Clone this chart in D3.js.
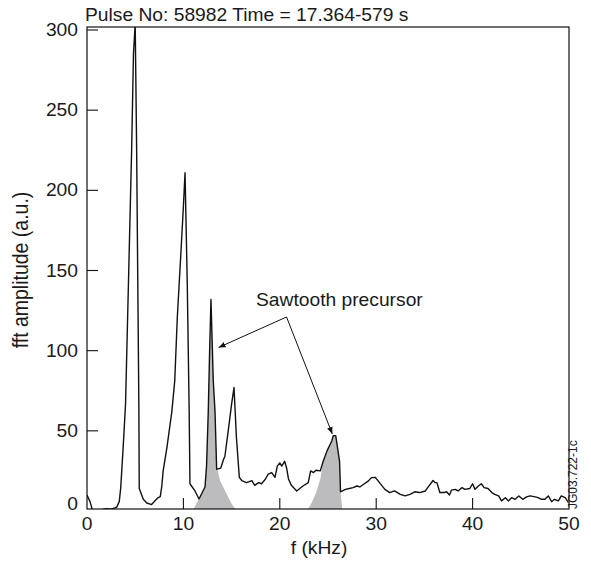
<!DOCTYPE html>
<html>
<head>
<meta charset="utf-8">
<script src="https://cdn.jsdelivr.net/npm/d3@7"></script>
<style>
  body { margin: 0; background: #fff; }
  text { font-family: "Liberation Sans", Arial, sans-serif; fill: #1a1a1a; }
</style>
</head>
<body>
<div id="chart"></div>
<script>
// spectrum (kHz, a.u.)
var freqKHz = [0,0.3,0.55,1.0,1.5,2.0,2.5,2.9,3.1,3.35,3.5,3.77,4.0,4.63,4.82,5.0,5.15,5.38,5.42,5.84,
  6.2,6.7,7.3,7.6,7.75,7.9,8.3,8.8,9.1,9.37,9.75,10.0,10.17,10.4,10.6,10.68,11.2,11.62,12.24,12.4,
  12.58,12.72,12.86,13.1,13.28,13.45,13.87,14.15,14.3,14.65,15.0,15.25,15.5,15.8,16.05,16.55,17.1,17.4,17.8,18.1,
  18.5,18.8,19.16,19.5,19.74,20.0,20.2,20.5,20.7,20.9,21.2,21.75,22.4,22.95,23.2,23.5,23.75,24.2,24.5,24.9,
  25.4,25.55,25.8,26.2,26.3,26.8,27.2,27.6,28.0,28.3,28.7,29.2,29.5,29.9,30.2,30.9,31.4,31.9,32.5,33.0,
  33.5,34.0,34.5,35.1,35.4,35.9,36.1,36.3,36.6,37.0,37.3,37.6,37.8,38.2,38.5,38.9,39.2,39.7,40.0,40.25,
  40.6,40.9,41.2,41.6,42.0,42.3,42.7,43.0,43.4,43.7,44.05,44.4,44.8,45.2,45.6,45.95,46.5,46.8,47.15,47.5,
  47.85,48.2,48.5,48.9,49.2,49.6,49.95];
var fftAmp = [10,6,1,0.5,0.8,1.5,1.2,2,2.5,6,14.6,41.7,67,225,285,304,225,65,14,7.3,
  5,4,8,9,15,25,40,62,81,121,162,190,211,142,62,17,12.5,7.5,15,28,
  62,100,132,81,62,26,26.7,32,34,50,66.7,77,46,21,19,17.7,19,16,17.7,17,
  19.8,23,24,21,28,30,28,31,27,20,16,12.5,15.6,17.7,25,24,25.4,25,31,37.5,
  43.8,47,47,31,12,13.5,14,14.6,15.6,15,16.7,18.8,20.8,21,18.8,13.5,11.5,12.5,10.4,9.4,
  10.4,12,11.5,12.5,15,19,17.7,17.7,11.5,11.5,12,10,13,13.5,12.5,14.6,13.5,14,17,13.5,
  15.6,17,14.6,14,11.5,10.4,9.4,6.3,8.3,6.3,8.3,7.3,9.4,7.3,8.8,9.4,8.8,8.3,7.3,7.3,
  9.4,5.8,7.3,6.3,9.4,8.3,5.2];

// shaded sawtooth precursor peaks
var shade1F = [10.96,12.24,12.4,12.58,12.72,12.86,13.1,13.28,13.45,13.8,14.5,15.0,15.55];
var shade1A = [0,15,28,62,100,132,81,62,28,19,10.4,4.5,0];
var shade2F = [22.8,23.3,23.8,24.2,24.5,24.9,25.4,25.55,25.8,26.2,26.3,26.5];
var shade2A = [0,5,12,20,31,37.5,43.8,47,47,31,12,0];

var xTicks = [0,10,20,30,40,50];
var yTicks = [0,50,100,150,200,250,300];

// annotation: label anchor and two arrow tips, in data units
var arrowFrom = [20.7,121];
var arrowTips = [[13.65,102],[25.45,48]];

var W = 591, H = 562;
var box = {left: 87, right: 569, top: 27, bottom: 509};
var stretch = 1.1;   // the original lettering is a bit wide

var svg = d3.select("#chart").append("svg")
  .attr("width", W)
  .attr("height", H);

var x = d3.scaleLinear().domain([0,50]).range([box.left, box.right]);
var y = d3.scaleLinear().domain([0,300]).range([511, 30]);

svg.append("defs").append("clipPath").attr("id", "plotclip")
  .append("rect")
  .attr("x", box.left).attr("y", box.top)
  .attr("width", box.right - box.left).attr("height", box.bottom - box.top);

var marker = svg.select("defs").append("marker")
  .attr("id", "arrowhead")
  .attr("viewBox", "0 0 10 10")
  .attr("refX", 10).attr("refY", 5)
  .attr("markerWidth", 7).attr("markerHeight", 7)
  .attr("markerUnits", "userSpaceOnUse")
  .attr("orient", "auto");
marker.append("path").attr("d", "M0,1 L10,5 L0,9 Z").attr("fill", "#111");

function label(px, py, str, size, anchor, rot) {
  var t = "translate(" + px + "," + py + ") scale(" + stretch + ",1)";
  if (rot) t += " rotate(" + rot + ")";
  return svg.append("text")
    .attr("transform", t)
    .attr("text-anchor", anchor || "start")
    .style("font-size", size + "px")
    .text(str);
}

var plot = svg.append("g").attr("clip-path", "url(#plotclip)");

function pairs(fs, as) {
  return fs.map(function(f, i){ return [f, as[i]]; });
}

var area = d3.area()
  .x(function(d){ return x(d[0]); })
  .y0(y(0))
  .y1(function(d){ return y(d[1]); });

plot.append("path")
  .datum(pairs(shade1F, shade1A))
  .attr("d", area)
  .attr("fill", "#bcbcbe");

plot.append("path")
  .datum(pairs(shade2F, shade2A))
  .attr("d", area)
  .attr("fill", "#bcbcbe");

var line = d3.line()
  .x(function(d){ return x(d[0]); })
  .y(function(d){ return y(d[1]); });

plot.append("path")
  .datum(pairs(freqKHz, fftAmp))
  .attr("d", line)
  .attr("fill", "none")
  .attr("stroke", "#111")
  .attr("stroke-width", 1.4)
  .attr("stroke-linejoin", "round");

// frame
svg.append("rect")
  .attr("x", box.left).attr("y", box.top)
  .attr("width", box.right - box.left).attr("height", box.bottom - box.top)
  .attr("fill", "none")
  .attr("stroke", "#111")
  .attr("stroke-width", 1.2);

// inward ticks
svg.selectAll(".xtick")
  .data(xTicks.filter(function(d){ return d > 0 && d < 50; }))
  .enter().append("line")
  .attr("class", "xtick")
  .attr("x1", function(d){ return x(d); }).attr("x2", function(d){ return x(d); })
  .attr("y1", box.bottom).attr("y2", box.bottom - 11)
  .attr("stroke", "#111").attr("stroke-width", 1.1);

svg.selectAll(".ytick")
  .data(yTicks.filter(function(d){ return d > 0; }))
  .enter().append("line")
  .attr("class", "ytick")
  .attr("x1", box.left).attr("x2", box.left + 11)
  .attr("y1", function(d){ return y(d); }).attr("y2", function(d){ return y(d); })
  .attr("stroke", "#111").attr("stroke-width", 1.1);

// tick labels
xTicks.forEach(function(d){
  label(x(d), 530, d, 17.5, "middle");
});
yTicks.forEach(function(d){
  label(box.left - 9, Math.min(y(d) + 6, 510), d, 17.5, "end");
});

// axis titles
label(319, 554, "f (kHz)", 17.5, "middle");
label(28, 270, "fft amplitude (a.u.)", 19.5, "middle", -90);
label(85, 21, "Pulse No: 58982 Time = 17.364-579 s", 17.5, "start");
label(577, 509, "JG03.722-1c", 12, "start", -90);

// annotation
label(256, 306, "Sawtooth precursor", 17.5, "start");

svg.selectAll(".arrow")
  .data(arrowTips)
  .enter().append("line")
  .attr("class", "arrow")
  .attr("x1", x(arrowFrom[0])).attr("y1", y(arrowFrom[1]))
  .attr("x2", function(d){ return x(d[0]); })
  .attr("y2", function(d){ return y(d[1]); })
  .attr("stroke", "#111")
  .attr("stroke-width", 1)
  .attr("marker-end", "url(#arrowhead)");
</script>
</body>
</html>
